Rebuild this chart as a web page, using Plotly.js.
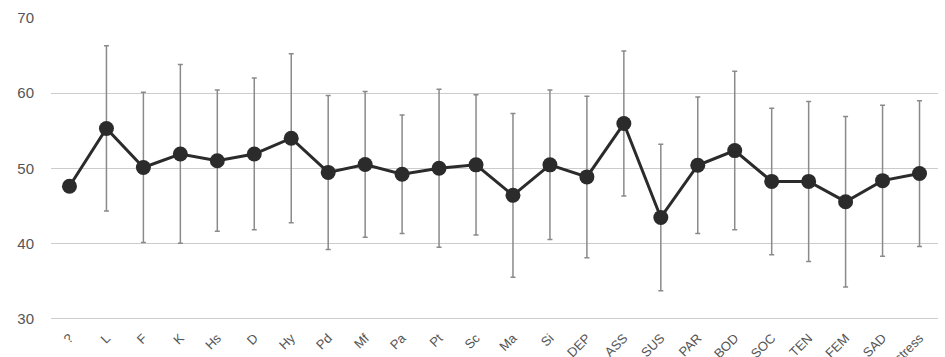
<!DOCTYPE html>
<html>
<head>
<meta charset="utf-8">
<script src="https://cdn.plot.ly/plotly-3.0.1.min.js"></script>
<style>html,body{margin:0;padding:0;background:#fff;}#chart{width:945px;height:357px;}</style>
</head>
<body>
<div id="chart"></div>
<script>
const categories = ["?", "L", "F", "K", "Hs", "D", "Hy", "Pd", "Mf", "Pa", "Pt", "Sc", "Ma", "Si", "DEP", "ASS", "SUS", "PAR", "BOD", "SOC", "TEN", "FEM", "SAD", "Distress"];
const means = [47.6, 55.3, 50.1, 51.9, 51.0, 51.9, 54.0, 49.45, 50.5, 49.2, 50.0, 50.45, 46.4, 50.45, 48.85, 55.95, 43.45, 50.4, 52.35, 48.25, 48.25, 45.55, 48.35, 49.3];
const sds = [0, 11.0, 10.0, 11.9, 9.4, 10.1, 11.25, 10.25, 9.7, 7.9, 10.5, 9.35, 10.9, 9.95, 10.75, 9.65, 9.75, 9.1, 10.55, 9.75, 10.65, 11.35, 10.05, 9.7];
const yTicks = [30, 40, 50, 60, 70];

const trace = {
  x: categories,
  y: means,
  type: 'scatter',
  mode: 'lines+markers',
  line: {color: '#2b2b2b', width: 3},
  marker: {color: '#2b2b2b', size: 15},
  error_y: {type: 'data', array: sds, visible: true, color: '#8a8a8a', thickness: 1.5, width: 2.5},
  hoverinfo: 'none'
};

const layout = {
  width: 945, height: 357,
  margin: {l: 51, r: 7, t: 18, b: 37},
  paper_bgcolor: '#fff', plot_bgcolor: '#fff',
  showlegend: false,
  font: {family: 'Liberation Sans, Arial, sans-serif', color: '#555'},
  xaxis: {
    type: 'category',
    tickangle: -45,
    tickfont: {size: 13, color: '#555'},
    showgrid: false, zeroline: false, showline: false,
    ticks: '', automargin: false, ticklabelstandoff: 7,
    range: [-0.5, 23.5]
  },
  yaxis: {
    range: [29.8, 70],
    tickvals: yTicks,
    tickfont: {size: 15, color: '#555'},
    gridcolor: '#cccccc', gridwidth: 1,
    zeroline: false, showline: false,
    ticks: '', ticklabelstandoff: 16, automargin: false
  }
};

Plotly.newPlot('chart', [trace], layout, {displayModeBar: false, staticPlot: true});
</script>
</body>
</html>
